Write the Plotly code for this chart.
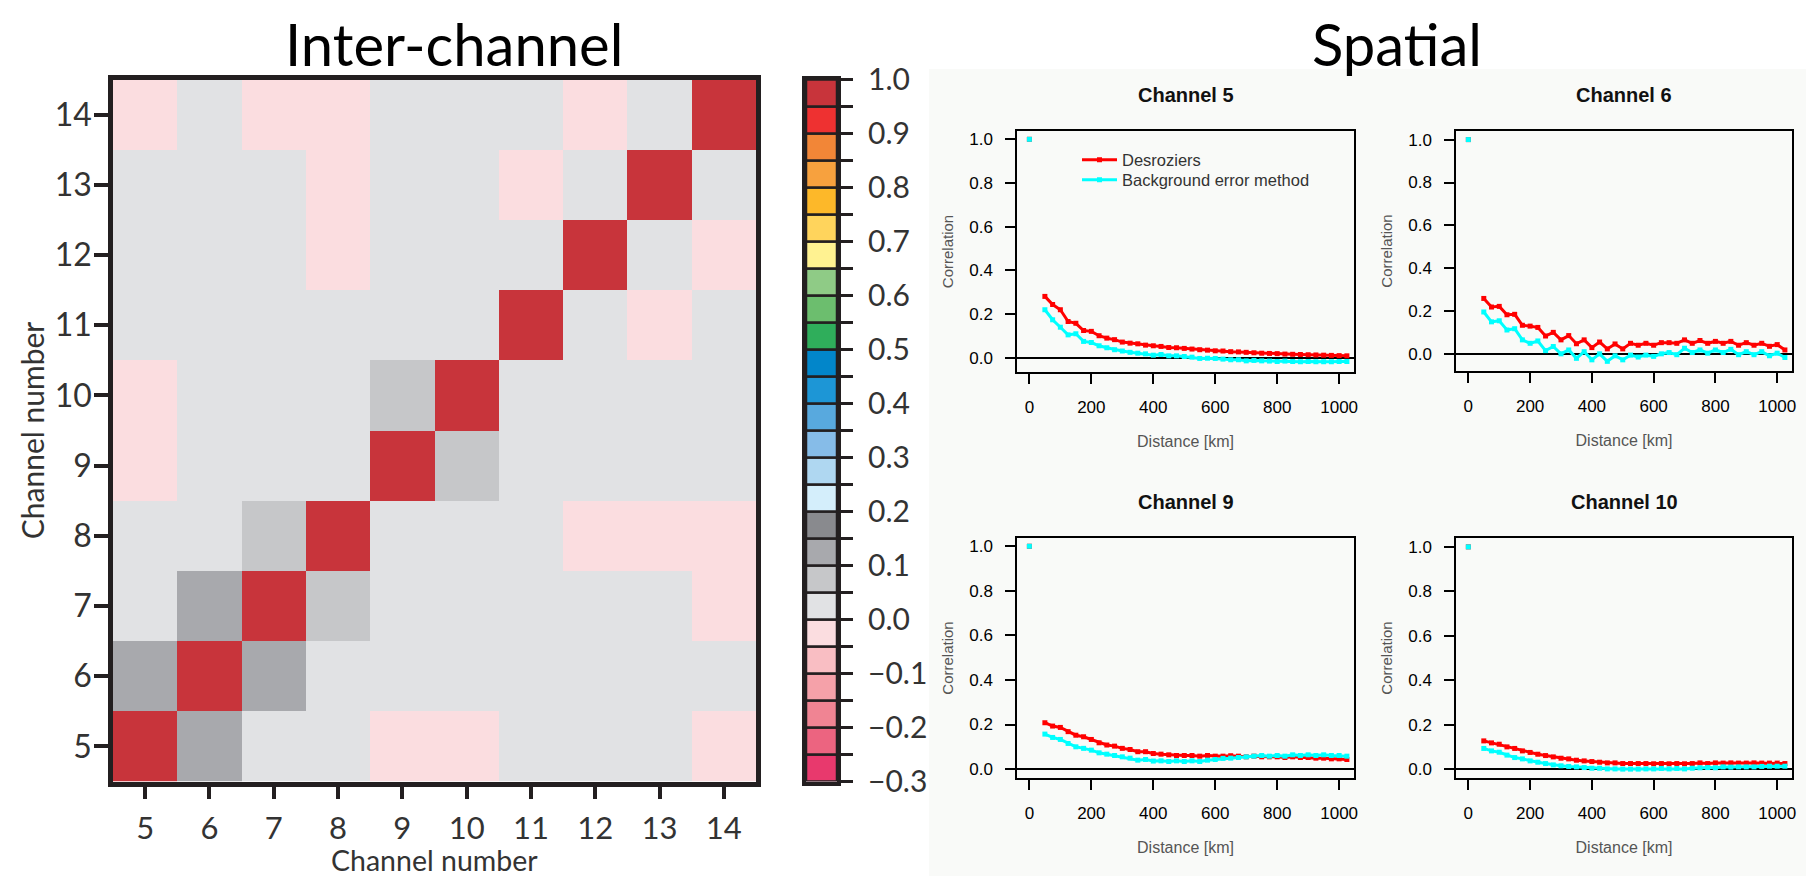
import plotly.graph_objects as go

W, H = 1814, 876
PAGE_OFF = 8  # default body margin of the page holding the figure

# ---------------- Inter-channel correlation (heatmap) ----------------
channels = [5, 6, 7, 8, 9, 10, 11, 12, 13, 14]
# rows: channel 5 (bottom) .. 14 (top); columns: channel 5 .. 14
corr_matrix = [
    [1.00, 0.12, 0.02, 0.02, -0.02, -0.02, 0.02, 0.02, 0.02, -0.02],   # 5
    [0.12, 1.00, 0.12, 0.02, 0.02, 0.02, 0.02, 0.02, 0.02, 0.02],      # 6
    [0.02, 0.12, 1.00, 0.07, 0.02, 0.02, 0.02, 0.02, 0.02, -0.02],     # 7
    [0.02, 0.02, 0.07, 1.00, 0.02, 0.02, 0.02, -0.02, -0.02, -0.02],   # 8
    [-0.02, 0.02, 0.02, 0.02, 1.00, 0.07, 0.02, 0.02, 0.02, 0.02],     # 9
    [-0.02, 0.02, 0.02, 0.02, 0.07, 1.00, 0.02, 0.02, 0.02, 0.02],     # 10
    [0.02, 0.02, 0.02, 0.02, 0.02, 0.02, 1.00, 0.02, -0.02, 0.02],     # 11
    [0.02, 0.02, 0.02, -0.02, 0.02, 0.02, 0.02, 1.00, 0.02, -0.02],    # 12
    [0.02, 0.02, 0.02, -0.02, 0.02, 0.02, -0.02, 0.02, 1.00, 0.02],    # 13
    [-0.02, 0.02, -0.02, -0.02, 0.02, 0.02, 0.02, -0.02, 0.02, 1.00],  # 14
]

# discrete colour scale: lower edge of each 0.05 bin and its colour
bin_lower = [-0.30, -0.25, -0.20, -0.15, -0.10, -0.05, 0.00, 0.05, 0.10, 0.15,
             0.20, 0.25, 0.30, 0.35, 0.40, 0.45, 0.50, 0.55, 0.60, 0.65,
             0.70, 0.75, 0.80, 0.85, 0.90, 0.95]
bin_width = 0.05
bin_colors = ['#E8396D', '#EC6480', '#F08493', '#F5A1A9', '#F9BEC3', '#FBDDE0',
              '#E1E2E4', '#C6C7C9', '#A8A9AD', '#898A8E',
              '#D4EEFB', '#AFD7F1', '#86BCE8', '#58A9DE', '#1D96D6', '#0286CA',
              '#2FAE5B', '#6CBE6E', '#8FCB86',
              '#FFF291', '#FFD45C', '#FDB829', '#F7A13E', '#F28637', '#EE3131', '#C8343B']
cb_tick_labels = ['\u22120.3', '', '\u22120.2', '', '\u22120.1', '', '0.0', '', '0.1', '',
                  '0.2', '', '0.3', '', '0.4', '', '0.5', '', '0.6', '', '0.7', '',
                  '0.8', '', '0.9', '', '1.0']
ZMIN, ZMAX = -0.30, 1.00

# ---------------- Spatial correlations ----------------
dist_km = [50, 75, 100, 125, 150, 175, 200, 225, 250, 275, 300, 325, 350, 375, 400,
           425, 450, 475, 500, 525, 550, 575, 600, 625, 650, 675, 700, 725, 750, 775,
           800, 825, 850, 875, 900, 925, 950, 975, 1000, 1025]
zero_dist = 0
zero_corr = 1.0

ch5_desroziers = [0.281, 0.244, 0.220, 0.166, 0.158, 0.125, 0.121, 0.101, 0.090, 0.083,
                  0.072, 0.067, 0.064, 0.058, 0.055, 0.052, 0.047, 0.046, 0.043, 0.040,
                  0.037, 0.035, 0.032, 0.031, 0.028, 0.027, 0.025, 0.023, 0.021, 0.020,
                  0.019, 0.017, 0.016, 0.015, 0.014, 0.013, 0.012, 0.011, 0.010, 0.009]
ch5_background = [0.220, 0.174, 0.140, 0.105, 0.110, 0.075, 0.070, 0.055, 0.046, 0.037,
                  0.031, 0.025, 0.021, 0.018, 0.012, 0.015, 0.009, 0.009, 0.006, 0.003,
                  -0.003, -0.002, -0.003, -0.006, -0.009, -0.009, -0.014, -0.012, -0.014, -0.015,
                  -0.017, -0.015, -0.017, -0.018, -0.017, -0.018, -0.018, -0.018, -0.017, -0.017]
ch6_desroziers = [0.260, 0.220, 0.223, 0.184, 0.186, 0.135, 0.131, 0.125, 0.085, 0.102,
                  0.067, 0.087, 0.049, 0.067, 0.031, 0.057, 0.025, 0.048, 0.025, 0.051,
                  0.042, 0.051, 0.042, 0.054, 0.054, 0.051, 0.067, 0.051, 0.064, 0.051,
                  0.060, 0.051, 0.060, 0.042, 0.054, 0.042, 0.051, 0.037, 0.045, 0.020]
ch6_background = [0.197, 0.151, 0.156, 0.113, 0.119, 0.067, 0.051, 0.062, 0.017, 0.036,
                  0.002, 0.020, -0.019, 0.012, -0.026, 0.002, -0.033, -0.007, -0.026, -0.004,
                  -0.013, -0.004, -0.010, 0.002, 0.008, -0.002, 0.028, 0.008, 0.020, 0.005,
                  0.020, 0.008, 0.023, -0.002, 0.012, -0.002, 0.012, -0.007, 0.005, -0.015]
ch9_desroziers = [0.208, 0.193, 0.187, 0.168, 0.152, 0.145, 0.133, 0.118, 0.108, 0.103,
                  0.093, 0.088, 0.078, 0.078, 0.070, 0.067, 0.064, 0.061, 0.061, 0.061,
                  0.058, 0.061, 0.058, 0.058, 0.060, 0.058, 0.055, 0.058, 0.055, 0.055,
                  0.055, 0.052, 0.055, 0.052, 0.052, 0.049, 0.049, 0.046, 0.046, 0.043]
ch9_background = [0.157, 0.142, 0.133, 0.115, 0.100, 0.093, 0.085, 0.073, 0.067, 0.061,
                  0.055, 0.049, 0.040, 0.043, 0.036, 0.037, 0.034, 0.037, 0.034, 0.037,
                  0.034, 0.040, 0.043, 0.048, 0.049, 0.052, 0.055, 0.058, 0.061, 0.058,
                  0.061, 0.058, 0.064, 0.061, 0.064, 0.061, 0.064, 0.061, 0.061, 0.058]
ch10_desroziers = [0.127, 0.118, 0.112, 0.100, 0.093, 0.082, 0.075, 0.067, 0.061, 0.055,
                   0.049, 0.046, 0.040, 0.037, 0.034, 0.031, 0.028, 0.028, 0.025, 0.025,
                   0.025, 0.025, 0.024, 0.025, 0.024, 0.025, 0.024, 0.025, 0.028, 0.025,
                   0.028, 0.027, 0.028, 0.027, 0.027, 0.028, 0.027, 0.027, 0.027, 0.025]
ch10_background = [0.093, 0.082, 0.076, 0.063, 0.052, 0.046, 0.037, 0.031, 0.025, 0.019,
                   0.015, 0.012, 0.010, 0.007, 0.004, 0.004, 0.001, 0.001, 0.000, 0.000,
                   0.000, 0.001, 0.001, 0.003, 0.001, 0.003, 0.001, 0.004, 0.006, 0.007,
                   0.006, 0.010, 0.009, 0.010, 0.010, 0.010, 0.012, 0.013, 0.013, 0.013]

panels = [
    ("Channel 5", ch5_desroziers, ch5_background, [-0.065, 1.038]),
    ("Channel 6", ch6_desroziers, ch6_background, [-0.078, 1.040]),
    ("Channel 9", ch9_desroziers, ch9_background, [-0.040, 1.037]),
    ("Channel 10", ch10_desroziers, ch10_background, [-0.040, 1.040]),
]
series_names = ["Desroziers", "Background error method"]
series_colors = ["#FF0000", "#00FFFF"]

# ---------------- layout geometry (page pixels -> paper fractions) ----------------
def fx(p):
    return (p - PAGE_OFF) / W

def fy(p):
    return 1 - (p - PAGE_OFF) / H

def px_x(a, b):
    return [fx(a), fx(b)]

def px_y(top, bottom):
    return [fy(bottom), fy(top)]

HM_X = px_x(113, 756)
HM_Y = px_y(79.5, 781.5)
CB_X = px_x(806, 837)
panel_dom = [
    (px_x(1017, 1354), px_y(131, 372)),
    (px_x(1456, 1792), px_y(131, 371)),
    (px_x(1017, 1354), px_y(538, 778)),
    (px_x(1456, 1792), px_y(538, 778)),
]

INK = '#231F20'
HM_FONT = 'Lato'
R_FONT = 'Liberation Sans, Arial, sans-serif'

fig = go.Figure()

# stepped colour scale built from the bins
colorscale = []
n_bins = len(bin_colors)
for i, c in enumerate(bin_colors):
    colorscale.append([i / n_bins, c])
    colorscale.append([(i + 1) / n_bins, c])

fig.add_trace(go.Heatmap(
    z=corr_matrix, x=channels, y=channels,
    colorscale=colorscale, zmin=ZMIN, zmax=ZMAX, showscale=False,
    xaxis='x', yaxis='y', hoverongaps=False,
))

# colour key drawn as stacked blocks
fig.add_trace(go.Bar(
    x=[0] * n_bins, y=[bin_width] * n_bins, base=bin_lower,
    marker=dict(color=bin_colors, line=dict(color=INK, width=2.5)),
    width=1, xaxis='x2', yaxis='y2', showlegend=False, hoverinfo='skip',
))

# spatial panels
legend_ids = ['legend', 'legend2']
for k, (title, des, bg, yr) in enumerate(panels):
    ax = k + 3
    for s, (vals, name, col) in enumerate(zip([des, bg], series_names, series_colors)):
        fig.add_trace(go.Scatter(
            x=[zero_dist, None] + dist_km,
            y=[zero_corr, None] + vals,
            mode='lines+markers',
            line=dict(color=col, width=3),
            marker=dict(color=col, symbol='square', size=5),
            name=name,
            showlegend=(k == 0),
            legend=legend_ids[s],
            xaxis=f'x{ax}', yaxis=f'y{ax}',
        ))

legend_common = dict(xanchor='left', yanchor='middle', bgcolor='rgba(0,0,0,0)',
                     borderwidth=0, itemwidth=35,
                     font=dict(family=R_FONT, size=16.5, color='#333333'))

layout = dict(
    template='none',
    width=W, height=H, autosize=False,
    margin=dict(l=0, r=0, t=0, b=0, pad=0, autoexpand=False),
    paper_bgcolor='white',
    plot_bgcolor='rgba(0,0,0,0)',
    font=dict(family=R_FONT),
    barmode='overlay',
    showlegend=True,
    legend=dict(x=fx(1077), y=fy(160), **legend_common),
    legend2=dict(x=fx(1077), y=fy(180), **legend_common),
    xaxis=dict(domain=HM_X, range=[4.5, 14.5], tickvals=channels, automargin=False,
               ticks='outside', ticklen=13, tickwidth=4, tickcolor=INK,
               showline=True, mirror=True, linewidth=4.5, linecolor=INK,
               showgrid=False, zeroline=False, ticklabelstandoff=3,
               tickfont=dict(family=HM_FONT, size=31, color='#333333')),
    yaxis=dict(domain=HM_Y, range=[4.5, 14.5], tickvals=channels, automargin=False,
               ticks='outside', ticklen=14, tickwidth=4, tickcolor=INK,
               showline=True, mirror=True, linewidth=4.5, linecolor=INK,
               showgrid=False, zeroline=False, ticklabelstandoff=-4,
               tickfont=dict(family=HM_FONT, size=32, color='#333333'),
               title=dict(text='Channel number', standoff=3,
                          font=dict(family=HM_FONT, size=30, color='#333333'))),
    xaxis2=dict(domain=CB_X, range=[-0.5, 0.5], showticklabels=False, ticks='',
                automargin=False,
                showline=True, mirror=True, linewidth=4, linecolor=INK,
                showgrid=False, zeroline=False, fixedrange=True),
    yaxis2=dict(domain=HM_Y, range=[ZMIN, ZMAX], anchor='x2', side='right',
                automargin=False,
                tickvals=bin_lower + [ZMAX], ticktext=cb_tick_labels,
                ticks='outside', ticklen=12, tickwidth=3, tickcolor=INK,
                showline=True, mirror=True, linewidth=4, linecolor=INK,
                showgrid=False, zeroline=False, ticklabelstandoff=9,
                tickfont=dict(family=HM_FONT, size=30, color='#333333')),
    annotations=[
        dict(text='Inter-channel', x=fx(454), y=fy(43), xref='paper', yref='paper',
             showarrow=False, xanchor='center', yanchor='middle',
             font=dict(family=HM_FONT, size=58, color='black')),
        dict(text='Spatial', x=fx(1397), y=fy(43), xref='paper', yref='paper',
             showarrow=False, xanchor='center', yanchor='middle',
             font=dict(family=HM_FONT, size=58, color='black')),
        # x-axis title of the heatmap
        dict(text='Channel number', x=(HM_X[0] + HM_X[1]) / 2, y=fy(860),
             xref='paper', yref='paper', showarrow=False,
             xanchor='center', yanchor='middle',
             font=dict(family=HM_FONT, size=28.5, color='#333333')),
    ],
    shapes=[
        dict(type='rect', xref='paper', yref='paper', x0=fx(929), x1=1, y0=0, y1=fy(69),
             fillcolor='#F9FAF8', line=dict(width=0), layer='below'),
    ],
)

for k, (title, des, bg, yr) in enumerate(panels):
    ax = k + 3
    xd, yd = panel_dom[k]
    layout[f'xaxis{ax}'] = dict(
        domain=xd, anchor=f'y{ax}', range=[-40, 1048], automargin=False,
        tickvals=[0, 200, 400, 600, 800, 1000],
        ticks='outside', ticklen=10, tickwidth=1.5, tickcolor='black',
        showline=True, mirror=True, linewidth=1.5, linecolor='black',
        showgrid=False, zeroline=False, ticklabelstandoff=9,
        tickfont=dict(family=R_FONT, size=17, color='#000000'),
        title=dict(text='Distance [km]', standoff=20,
                   font=dict(family=R_FONT, size=16, color='#555555')))
    layout[f'yaxis{ax}'] = dict(
        domain=yd, anchor=f'x{ax}', range=yr, automargin=False,
        tickvals=[0.0, 0.2, 0.4, 0.6, 0.8, 1.0], tickformat='.1f',
        ticks='outside', ticklen=10, tickwidth=1.5, tickcolor='black',
        showline=True, mirror=True, linewidth=1.5, linecolor='black',
        showgrid=False, zeroline=True, zerolinecolor='black', zerolinewidth=1.5,
        ticklabelstandoff=9,
        tickfont=dict(family=R_FONT, size=17, color='#000000'),
        title=dict(text='Correlation', standoff=12,
                   font=dict(family=R_FONT, size=15, color='#555555')))
    layout['annotations'].append(dict(
        text=f'<b>{title}</b>', x=(xd[0] + xd[1]) / 2, y=yd[1] + 36 / H,
        xref='paper', yref='paper', showarrow=False, xanchor='center', yanchor='middle',
        font=dict(family=R_FONT, size=20, color='#111111')))

fig.update_layout(**layout)
fig.write_html('out.html')
